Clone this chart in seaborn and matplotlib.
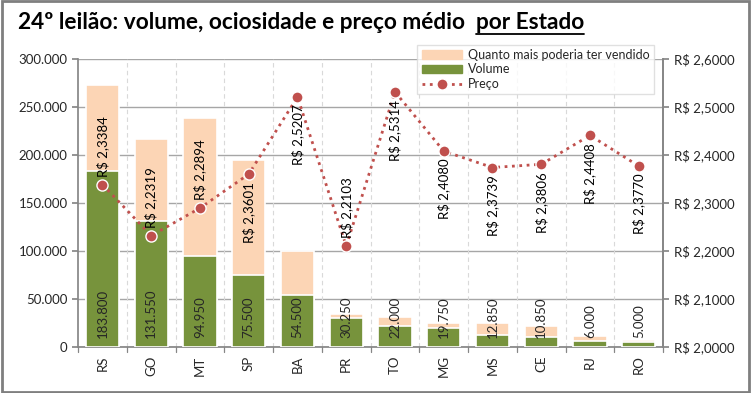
import numpy as np
import pandas as pd
import matplotlib
matplotlib.use("Agg")
import matplotlib.pyplot as plt
import seaborn as sns
from matplotlib.lines import Line2D
from matplotlib.patches import Patch, Rectangle

# data
estados = ['RS', 'GO', 'MT', 'SP', 'BA', 'PR', 'TO', 'MG', 'MS', 'CE', 'RJ', 'RO']
volume = [183800, 131550, 94950, 75500, 54500, 30250, 22000, 19750, 12850, 10850, 6000, 5000]
ociosidade = [89200, 85000, 144000, 119000, 45500, 4200, 9600, 5000, 11900, 11000, 5800, 2300]
preco = [2.3384, 2.2319, 2.2894, 2.3601, 2.5207, 2.2103, 2.5314, 2.4080, 2.3739, 2.3806, 2.4408, 2.3770]
preco_acima = [True, True, True, False, False, True, False, False, False, False, False, False]

PEACH = '#FCD5B5'
GREEN = '#77933C'
RED = '#C0504D'
TXT = '#262626'

sns.set_theme(style='white')
plt.rcParams['font.family'] = ['Lato', 'DejaVu Sans']

df = pd.DataFrame({'estado': estados, 'volume': volume, 'ocio': ociosidade, 'preco': preco})
df['total'] = df['volume'] + df['ocio']

fig = plt.figure(figsize=(7.51, 3.93), dpi=100)
ax = fig.add_axes([0.104, 0.117, 0.779, 0.733])

sns.barplot(data=df, x='estado', y='total', color=PEACH, saturation=1, width=0.68,
            edgecolor='white', linewidth=1.2, ax=ax, zorder=2)
sns.barplot(data=df, x='estado', y='volume', color=GREEN, saturation=1, width=0.68,
            edgecolor='white', linewidth=1.2, ax=ax, zorder=3)

ax.set_ylim(0, 300000)
ax.set_xlim(-0.5, len(estados) - 0.5)
ax.set_yticks(np.arange(0, 300001, 50000))
ax.set_yticklabels([f'{int(v):,}'.replace(',', '.') for v in np.arange(0, 300001, 50000)],
                   fontsize=9.5, color=TXT)
ax.set_xticks(range(len(estados)))
ax.set_xticklabels(estados, rotation=90, fontsize=9.5, color=TXT)
ax.tick_params(axis='x', length=0, pad=6)
ax.tick_params(axis='y', length=4, color='#868686', direction='out', left=True)
ax.set_xlabel('')
ax.set_ylabel('')
ax.yaxis.grid(True, color='#A6A6A6', linewidth=1, zorder=0)
ax.set_axisbelow(True)
for b in np.arange(0.5, len(estados) - 0.5, 1):
    ax.axvline(b, color='#D9D9D9', linestyle=(0, (4, 3)), linewidth=0.8, zorder=1)
# category boundary ticks below axis
for b in np.arange(-0.5, len(estados), 1):
    ax.plot([b, b], [0, -5000], color='#868686', linewidth=0.9, clip_on=False, zorder=1)
ax.spines['top'].set_visible(False)
for s in ['left', 'bottom', 'right']:
    ax.spines[s].set_color('#868686')

for i, v in enumerate(volume):
    ax.text(i, 9000, f'{v:,}'.replace(',', '.'), rotation=90, ha='center', va='bottom',
            fontsize=9.5, color=TXT, zorder=5)

ax2 = ax.twinx()
sns.lineplot(x=np.arange(len(estados)), y=preco, ax=ax2, color=RED, linestyle=':',
             linewidth=2, marker='o', markersize=8, markeredgecolor='white',
             markeredgewidth=1, zorder=6)
ax2.set_ylim(2.0, 2.6)
ax2.set_yticks(np.arange(2.0, 2.6001, 0.1))
ax2.set_yticklabels([f'R$ {v:.4f}'.replace('.', ',') for v in np.arange(2.0, 2.6001, 0.1)],
                    fontsize=9.5, color=TXT)
ax2.tick_params(axis='y', length=4, color='#868686', direction='out', right=True)
for s in ['top', 'left', 'bottom']:
    ax2.spines[s].set_visible(False)
ax2.spines['right'].set_color('#868686')

for i, (p, up) in enumerate(zip(preco, preco_acima)):
    lbl = f'R$ {p:.4f}'.replace('.', ',')
    off = 0.016 if up else -0.016
    ax2.text(i, p + off, lbl, rotation=90, ha='center', va='bottom' if up else 'top',
             fontsize=9.5, color='black', zorder=7)

handles = [Patch(facecolor=PEACH, edgecolor=PEACH),
           Patch(facecolor=GREEN, edgecolor=GREEN),
           Line2D([0], [0], color=RED, linestyle=':', linewidth=2, marker='o',
                  markersize=8, markeredgecolor='white')]
leg = ax2.legend(handles, ['Quanto mais poderia ter vendido', 'Volume', 'Preço'],
                 loc='upper left', bbox_to_anchor=(0.58, 1.05), borderaxespad=0,
                 fontsize=9, frameon=True, fancybox=False, shadow=False, borderpad=0.35,
                 labelspacing=0.2, handlelength=3.2, handletextpad=0.5)
leg.get_frame().set_edgecolor('#D9D9D9')
leg.get_frame().set_linewidth(1)
leg.set_zorder(10)

# title with underlined tail
t1 = fig.text(0.024, 0.925, '24º leilão: volume, ociosidade e preço médio  ',
              fontsize=16.3, fontweight='bold', color='black', va='baseline')
fig.canvas.draw()
r = fig.canvas.get_renderer()
bb = t1.get_window_extent(r).transformed(fig.transFigure.inverted())
t2 = fig.text(bb.x1, 0.925, 'por Estado', fontsize=16.3, fontweight='bold',
              color='black', va='baseline')
fig.canvas.draw()
bb2 = t2.get_window_extent(r).transformed(fig.transFigure.inverted())
fig.add_artist(Line2D([bb2.x0, bb2.x1], [0.913, 0.913], color='black', linewidth=1.3,
                      transform=fig.transFigure))

fig.patches.append(Rectangle((0.002, 0.003), 0.996, 0.994, transform=fig.transFigure,
                             fill=False, edgecolor='#7F7F7F', linewidth=2))

fig.savefig('out.png', dpi=100)
